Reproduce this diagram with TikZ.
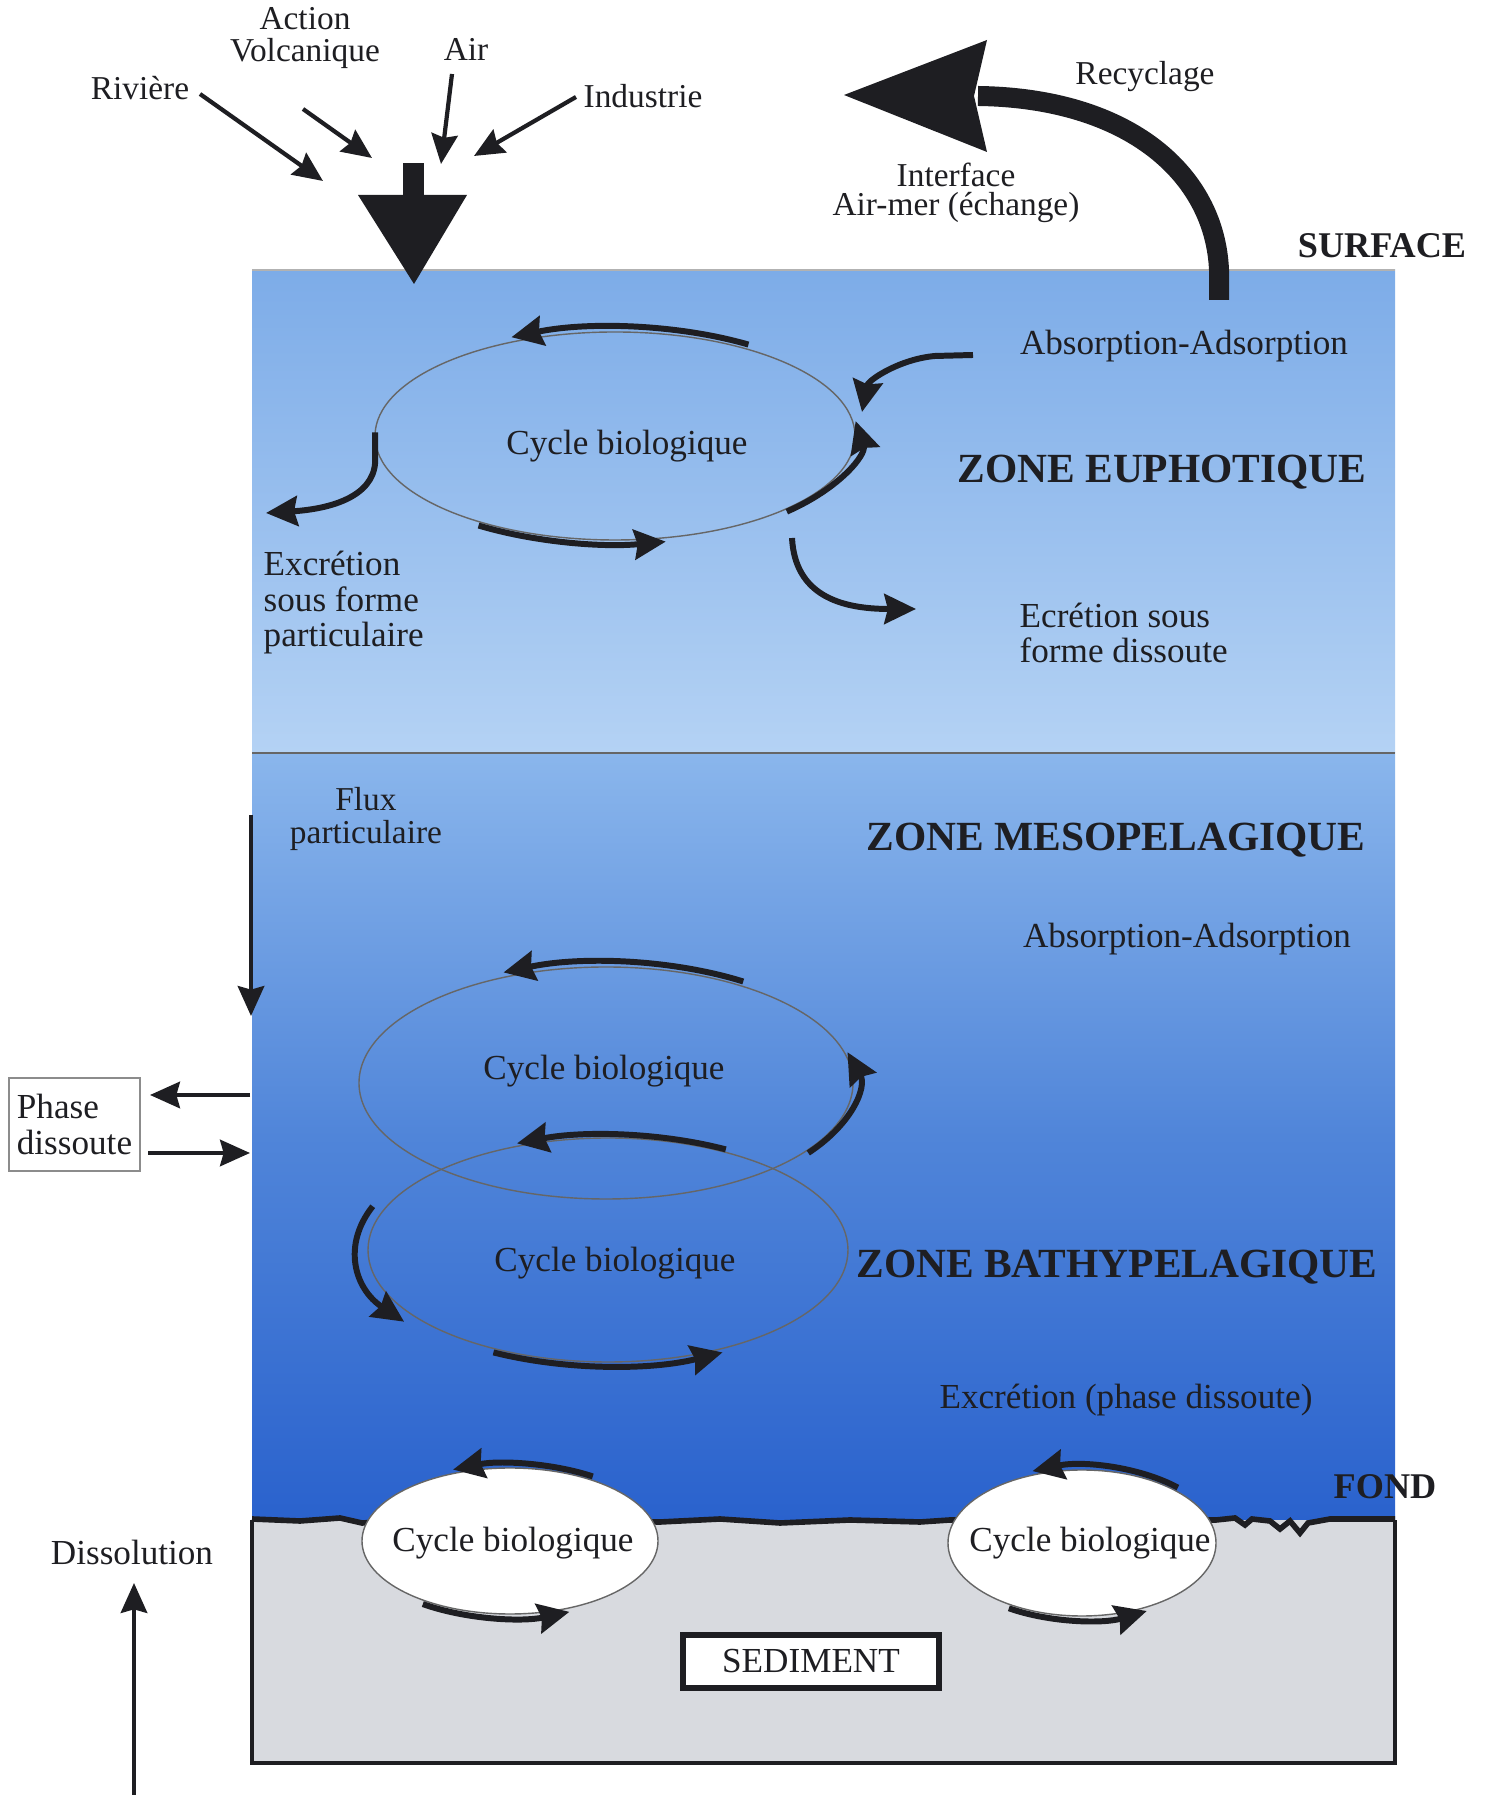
\documentclass[tikz,border=0pt]{standalone}
\usepackage{fontspec}
\setmainfont{Liberation Serif}
\usetikzlibrary{arrows.meta}
\definecolor{ink}{RGB}{30,30,34}
\definecolor{eupTop}{RGB}{125,172,232}
\definecolor{eupBot}{RGB}{180,210,244}
\definecolor{mesTop}{RGB}{138,182,236}
\definecolor{mesMid}{RGB}{80,133,217}
\definecolor{mesBot}{RGB}{42,98,205}
\definecolor{sedGrey}{RGB}{216,218,223}
\tikzset{
  lbl/.style = {text=ink, inner sep=0, align=center, font=\fontsize{10}{10}\selectfont},
  zone/.style = {text=ink, inner sep=0, font=\fontsize{11.8}{12}\selectfont\bfseries},
  feed/.style = {ink, line width=1.2pt, -{Stealth[length=8.5pt, width=7.5pt, inset=1pt]}},
  flow/.style = {ink, line width=1.7pt, -{Stealth[length=9pt, width=8.5pt, inset=1pt]}},
  cycline/.style = {draw=black!60, line width=0.4pt},
}

\begin{document}
\begin{tikzpicture}
      \useasboundingbox (0,0) rectangle (14.87,17.95);

      \shade [top color=eupTop, bottom color=eupBot] (2.52,10.42) rectangle (13.95,15.25);
      \shade [top color=mesTop, bottom color=mesBot, middle color=mesMid] (2.52,2.75) rectangle (13.95,10.42);
      \draw [black!30, line width=0.3pt] (2.52,15.25) -- (13.95,15.25);
      \draw [black!60, line width=0.5pt] (2.52,10.42) -- (13.95,10.42);

      \fill [sedGrey] (2.52,0.32) rectangle (13.95,2.75);
      \draw [ink, line width=1.3pt] (2.52,2.75) -- (2.52,0.32) -- (13.95,0.32) -- (13.95,2.75);
      \draw [ink, line width=1.6pt] (2.52,2.76) -- (3.0,2.74) -- (3.4,2.77) -- (3.62,2.72) -- (4.2,2.75)
        -- (5.9,2.74) -- (6.6,2.73) -- (7.2,2.76) -- (7.8,2.72) -- (8.5,2.75) -- (9.2,2.73) -- (9.5,2.75)
        -- (12.16,2.75) -- (12.35,2.77) -- (12.45,2.70) -- (12.52,2.76) -- (12.7,2.74) -- (12.8,2.66)
        -- (12.9,2.74) -- (13.0,2.62) -- (13.08,2.72) -- (13.3,2.76) -- (13.95,2.76);
      \node [draw=ink, line width=1.8pt, fill=white, minimum width=2.56cm, minimum height=0.53cm,
        font=\fontsize{10}{10}\selectfont, text=ink] (sed) at (8.11,1.335) {SEDIMENT};

      \coordinate (c1) at (6.15,13.59);
      \coordinate (c2) at (6.06,7.12);
      \coordinate (c3) at (6.08,5.45);
      \coordinate (c4) at (5.10,2.54);
      \coordinate (c5) at (10.82,2.52);

      \foreach \c/\rx/\ry in {c1/2.40/1.04, c2/2.47/1.16, c3/2.40/1.12}
        \draw [cycline] (\c) ellipse [x radius=\rx, y radius=\ry];
      \foreach \c/\rx in {c4/1.48, c5/1.34}
        \draw [cycline, fill=white] (\c) ellipse [x radius=\rx, y radius=0.73];

      \foreach \c/\s/\e/\rx/\ry in {c1/57/115/2.45/1.09, c1/-45/8/2.43/1.07, c1/236/282/2.44/1.08,
          c2/57/114/2.52/1.21, c2/-36/15/2.50/1.19,
          c3/61/112/2.43/1.15, c3/159/216/2.52/1.22, c3/242/298/2.44/1.16,
          c4/57/112/1.52/0.77, c4/235/293/1.52/0.77,
          c5/46/111/1.38/0.77, c5/238/298/1.38/0.77}
        \draw [flow] ([shift={(\s:{\rx} and {\ry})}]\c) arc [start angle=\s, end angle=\e, x radius=\rx, y radius=\ry];

      \node [lbl] (cyc1) at (6.27,13.49) {Cycle biologique};
      \node [lbl] (cyc2) at (6.04,7.24) {Cycle biologique};
      \node [lbl] (cyc3) at (6.15,5.32) {Cycle biologique};
      \node [lbl] (cyc4) at (5.13,2.52) {Cycle biologique};
      \node [lbl] (cyc5) at (10.90,2.52) {Cycle biologique};

      \coordinate (xpEnd) at (2.66,12.82);
      \coordinate (absIn) at (9.73,14.40);
      \coordinate (absEnd) at (8.62,13.83);
      \coordinate (xdStart) at (7.92,12.57);
      \coordinate (xdEnd) at (9.16,11.86);
      \draw [flow] ([shift={(178:2.40 and 1.04)}]c1) -- +(0,-0.3) .. controls (3.73,12.98) and (3.30,12.86) .. (xpEnd);
      \draw [flow] (absIn) -- (9.35,14.39) .. controls (9.0,14.36) and (8.68,14.15) .. (absEnd);
      \draw [flow] (xdStart) .. controls (7.95,12.0) and (8.4,11.86) .. (xdEnd);

      \node [lbl] (absup) at (11.84,14.49) {Absorption-Adsorption};
      \node [zone] (euph) at (11.62,13.23) {ZONE EUPHOTIQUE};
      \node [lbl, align=left, anchor=west, font=\fontsize{10}{10.1}\selectfont] (xpart) at (2.63,11.92) {Excrétion\\sous forme\\particulaire};
      \node [lbl, align=left, anchor=west, font=\fontsize{10}{10.1}\selectfont] (xdiss) at (10.19,11.62) {Ecrétion sous\\forme dissoute};

      \node [lbl, font=\fontsize{9.5}{9.2}\selectfont] (flux) at (3.66,9.76) {Flux\\particulaire};
      \draw [feed] (2.51,9.80) -- (2.51,7.79);
      \node [zone] (meso) at (11.16,9.55) {ZONE MESOPELAGIQUE};
      \node [lbl] (absmid) at (11.87,8.56) {Absorption-Adsorption};
      \node [zone] (bathy) at (11.17,5.28) {ZONE BATHYPELAGIQUE};
      \node [lbl] (xphase) at (11.26,3.95) {Excrétion (phase dissoute)};
      \node [zone, font=\fontsize{10.3}{11}\selectfont\bfseries] (fond) at (13.85,3.08) {FOND};

      \node [draw=black!45, line width=0.4pt, minimum width=1.31cm, minimum height=0.93cm, inner sep=0,
        align=left, text=ink, font=\fontsize{10}{10.1}\selectfont] (phase) at (0.745,6.705) {Phase\\dissoute};
      \draw [feed] (2.50,7.00) -- (1.50,7.00);
      \draw [feed] (1.48,6.42) -- (2.50,6.42);

      \node [lbl] (dissol) at (1.32,2.43) {Dissolution};
      \draw [feed] (1.34,0) -- (1.34,2.12);

      \node [lbl, font=\fontsize{9.5}{9.5}\selectfont] (riv) at (1.40,17.07) {Rivière};
      \node [lbl, font=\fontsize{9.5}{9.2}\selectfont] (volc) at (3.05,17.57) {Action\\Volcanique};
      \node [lbl, font=\fontsize{9.5}{9.5}\selectfont] (air) at (4.66,17.46) {Air};
      \node [lbl, font=\fontsize{9.5}{9.5}\selectfont] (ind) at (6.43,16.99) {Industrie};
      \foreach \ax/\ay/\bx/\by in {2.00/17.01/3.23/16.14, 3.03/16.86/3.72/16.37,
          4.52/17.21/4.41/16.31, 5.76/16.98/4.74/16.39}
        \draw [feed] (\ax,\ay) -- (\bx,\by);

      \fill [ink] (4.03,16.32) rectangle (4.24,15.98);
      \fill [ink] (3.58,16.00) -- (4.67,16.00) -- (4.14,15.11) -- cycle;

      \draw [ink, line width=0.2cm] (12.19,14.95) -- (12.19,15.25) .. controls (12.15,16.2) and (11.3,16.97) .. (9.78,16.99);
      \fill [ink] (8.44,17.00) -- (9.87,17.55) -- (9.74,16.99) -- (9.87,16.43) -- cycle;

      \node [lbl, font=\fontsize{9.5}{9.5}\selectfont] (recy) at (11.45,17.18) {Recyclage};
      \node [lbl, font=\fontsize{9.5}{8.2}\selectfont] (iface) at (9.56,16.02) {Interface\\Air-mer (échange)};
      \node [zone, font=\fontsize{10.3}{11}\selectfont\bfseries] (surf) at (13.82,15.49) {SURFACE};
    \end{tikzpicture}
\end{document}
